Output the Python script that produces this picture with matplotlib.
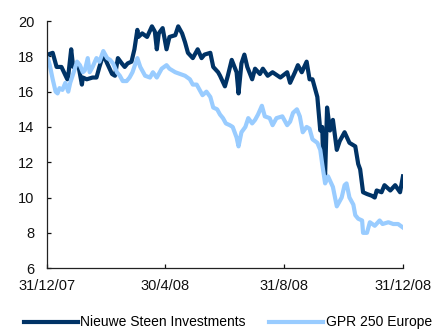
import matplotlib
matplotlib.use('Agg')
import matplotlib.pyplot as plt
import pandas as pd

# Nieuwe Steen Investments (dark line)
nsi_dates = ['2007-12-31', '2008-01-01', '2008-01-06', '2008-01-10', '2008-01-15', '2008-01-21',
             '2008-01-22', '2008-01-25', '2008-01-27', '2008-02-01', '2008-02-05', '2008-02-06',
             '2008-02-10', '2008-02-16', '2008-02-20', '2008-02-23', '2008-02-27', '2008-03-02',
             '2008-03-07', '2008-03-10', '2008-03-13', '2008-03-17', '2008-03-20', '2008-03-23',
             '2008-03-27', '2008-03-30', '2008-04-02', '2008-04-03', '2008-04-07', '2008-04-12',
             '2008-04-17', '2008-04-20', '2008-04-22', '2008-04-24', '2008-04-28', '2008-05-02',
             '2008-05-05', '2008-05-11', '2008-05-14', '2008-05-18', '2008-05-21', '2008-05-24',
             '2008-05-29', '2008-06-03', '2008-06-07', '2008-06-10', '2008-06-16', '2008-06-19',
             '2008-06-24', '2008-06-26', '2008-07-01', '2008-07-04', '2008-07-08', '2008-07-13',
             '2008-07-15', '2008-07-18', '2008-07-21', '2008-07-24', '2008-07-29', '2008-08-01',
             '2008-08-06', '2008-08-09', '2008-08-14', '2008-08-19', '2008-08-27', '2008-09-03',
             '2008-09-06', '2008-09-11', '2008-09-14', '2008-09-18', '2008-09-23', '2008-09-26',
             '2008-09-29', '2008-10-04', '2008-10-07', '2008-10-09', '2008-10-10', '2008-10-12',
             '2008-10-14', '2008-10-17', '2008-10-20', '2008-10-24', '2008-10-27', '2008-11-01',
             '2008-11-06', '2008-11-12', '2008-11-15', '2008-11-17', '2008-11-20', '2008-11-24',
             '2008-11-29', '2008-12-02', '2008-12-04', '2008-12-09', '2008-12-12', '2008-12-18',
             '2008-12-23', '2008-12-28', '2008-12-31']
nsi_values = [18.0, 18.1, 18.2, 17.4, 17.4, 16.7,
              16.9, 18.4, 17.4, 17.6, 16.4, 16.8,
              16.7, 16.8, 16.8, 17.4, 18.1, 17.6,
              17.0, 16.9, 17.9, 17.6, 17.4, 17.6,
              17.7, 18.4, 19.5, 19.1, 19.3, 19.1,
              19.7, 19.4, 18.4, 19.3, 19.6, 18.4,
              19.1, 19.2, 19.7, 19.3, 18.8, 18.2,
              17.9, 18.4, 17.9, 18.1, 18.2, 17.4,
              17.1, 16.9, 16.3, 16.9, 17.8, 17.1,
              15.9, 17.6, 18.1, 17.4, 16.7, 17.3,
              17.0, 17.3, 16.9, 17.1, 16.8, 17.1,
              16.5, 17.1, 17.5, 17.1, 17.7, 16.7,
              16.7, 15.7, 13.8, 14.0, 12.1, 11.3,
              15.1, 13.8, 14.4, 12.7, 13.2, 13.7,
              13.1, 12.9, 11.9, 11.6, 10.3, 10.2,
              10.1, 10.0, 10.4, 10.3, 10.7, 10.4,
              10.7, 10.3, 11.2]

# GPR 250 Europe (light line)
gpr_dates = ['2007-12-31', '2008-01-01', '2008-01-03', '2008-01-06', '2008-01-09', '2008-01-11',
             '2008-01-13', '2008-01-16', '2008-01-19', '2008-01-22', '2008-01-24', '2008-01-27',
             '2008-01-31', '2008-02-03', '2008-02-06', '2008-02-08', '2008-02-11', '2008-02-13',
             '2008-02-16', '2008-02-20', '2008-02-23', '2008-02-27', '2008-03-02', '2008-03-05',
             '2008-03-08', '2008-03-12', '2008-03-15', '2008-03-18', '2008-03-22', '2008-03-25',
             '2008-03-28', '2008-04-02', '2008-04-05', '2008-04-10', '2008-04-15', '2008-04-18',
             '2008-04-22', '2008-04-27', '2008-05-02', '2008-05-05', '2008-05-11', '2008-05-16',
             '2008-05-21', '2008-05-26', '2008-05-29', '2008-06-02', '2008-06-05', '2008-06-08',
             '2008-06-12', '2008-06-16', '2008-06-19', '2008-06-23', '2008-06-26', '2008-06-29',
             '2008-07-02', '2008-07-06', '2008-07-09', '2008-07-13', '2008-07-15', '2008-07-18',
             '2008-07-22', '2008-07-25', '2008-07-29', '2008-08-01', '2008-08-04', '2008-08-08',
             '2008-08-11', '2008-08-16', '2008-08-19', '2008-08-23', '2008-08-29', '2008-09-03',
             '2008-09-06', '2008-09-09', '2008-09-13', '2008-09-16', '2008-09-19', '2008-09-23',
             '2008-09-26', '2008-09-29', '2008-10-04', '2008-10-07', '2008-10-09', '2008-10-12',
             '2008-10-15', '2008-10-20', '2008-10-24', '2008-10-29', '2008-11-01', '2008-11-03',
             '2008-11-06', '2008-11-10', '2008-11-12', '2008-11-15', '2008-11-19', '2008-11-20',
             '2008-11-24', '2008-11-27', '2008-12-02', '2008-12-07', '2008-12-10', '2008-12-16',
             '2008-12-21', '2008-12-26', '2008-12-31']
gpr_values = [17.7, 17.9, 17.5, 16.7, 16.0, 15.9,
              16.2, 16.1, 16.5, 16.0, 16.5, 17.0,
              17.7, 17.5, 17.1, 17.2, 17.9, 17.1,
              17.4, 17.9, 17.7, 18.3, 17.9, 17.8,
              17.6, 17.1, 16.9, 16.6, 16.6, 16.8,
              17.1, 17.9, 17.4, 16.9, 16.8, 17.1,
              16.8, 17.3, 17.5, 17.3, 17.1, 17.0,
              16.9, 16.7, 16.4, 16.4, 16.1, 15.8,
              16.0, 15.7, 15.1, 15.0, 14.7, 14.5,
              14.2, 14.1, 14.0, 13.4, 12.9, 13.7,
              14.0, 14.5, 14.2, 14.4, 14.7, 15.2,
              14.6, 14.5, 14.1, 14.5, 14.6, 14.1,
              14.3, 14.8, 15.0, 14.6, 13.7, 14.0,
              13.9, 13.3, 13.1, 12.7, 11.9, 10.8,
              11.2, 10.6, 9.5, 10.0, 10.7, 10.8,
              10.0, 9.6, 9.0, 8.8, 8.7, 8.0,
              8.0, 8.6, 8.4, 8.7, 8.5, 8.6,
              8.5, 8.5, 8.3]

tick_dates = ['2007-12-31', '2008-04-30', '2008-08-31', '2008-12-31']
tick_labels = ['31/12/07', '30/4/08', '31/8/08', '31/12/08']
y_ticks = [6, 8, 10, 12, 14, 16, 18, 20]

plt.rcParams['font.family'] = ['Liberation Sans', 'DejaVu Sans']

fig = plt.figure(figsize=(4.38, 3.29), dpi=100)
ax = fig.add_axes([0.107, 0.185, 0.813, 0.751])

ax.plot(pd.to_datetime(nsi_dates), nsi_values, color='#003366', lw=3.0,
        label='Nieuwe Steen Investments', solid_joinstyle='round')
ax.plot(pd.to_datetime(gpr_dates), gpr_values, color='#99CCFF', lw=3.0,
        label='GPR 250 Europe', solid_joinstyle='round')

ax.set_xlim(pd.Timestamp(tick_dates[0]), pd.Timestamp(tick_dates[-1]))
ax.set_ylim(6, 20)
ax.set_xticks(pd.to_datetime(tick_dates))
ax.set_xticklabels(tick_labels)
ax.set_yticks(y_ticks)

for s in ['top', 'right']:
    ax.spines[s].set_visible(False)
for s in ['left', 'bottom']:
    ax.spines[s].set_linewidth(0.9)
    ax.spines[s].set_color('#222222')

ax.tick_params(axis='both', direction='in', length=3, width=0.9, labelsize=10.5, colors='#111111')
ax.tick_params(axis='x', pad=8)
ax.tick_params(axis='y', pad=9)

fig.legend(loc='center', bbox_to_anchor=(0.52, 0.02), ncol=2, frameon=False,
           fontsize=10, handlelength=3.9, handletextpad=0.15, columnspacing=1.7)

plt.savefig('out.png', dpi=100)
plt.close()
